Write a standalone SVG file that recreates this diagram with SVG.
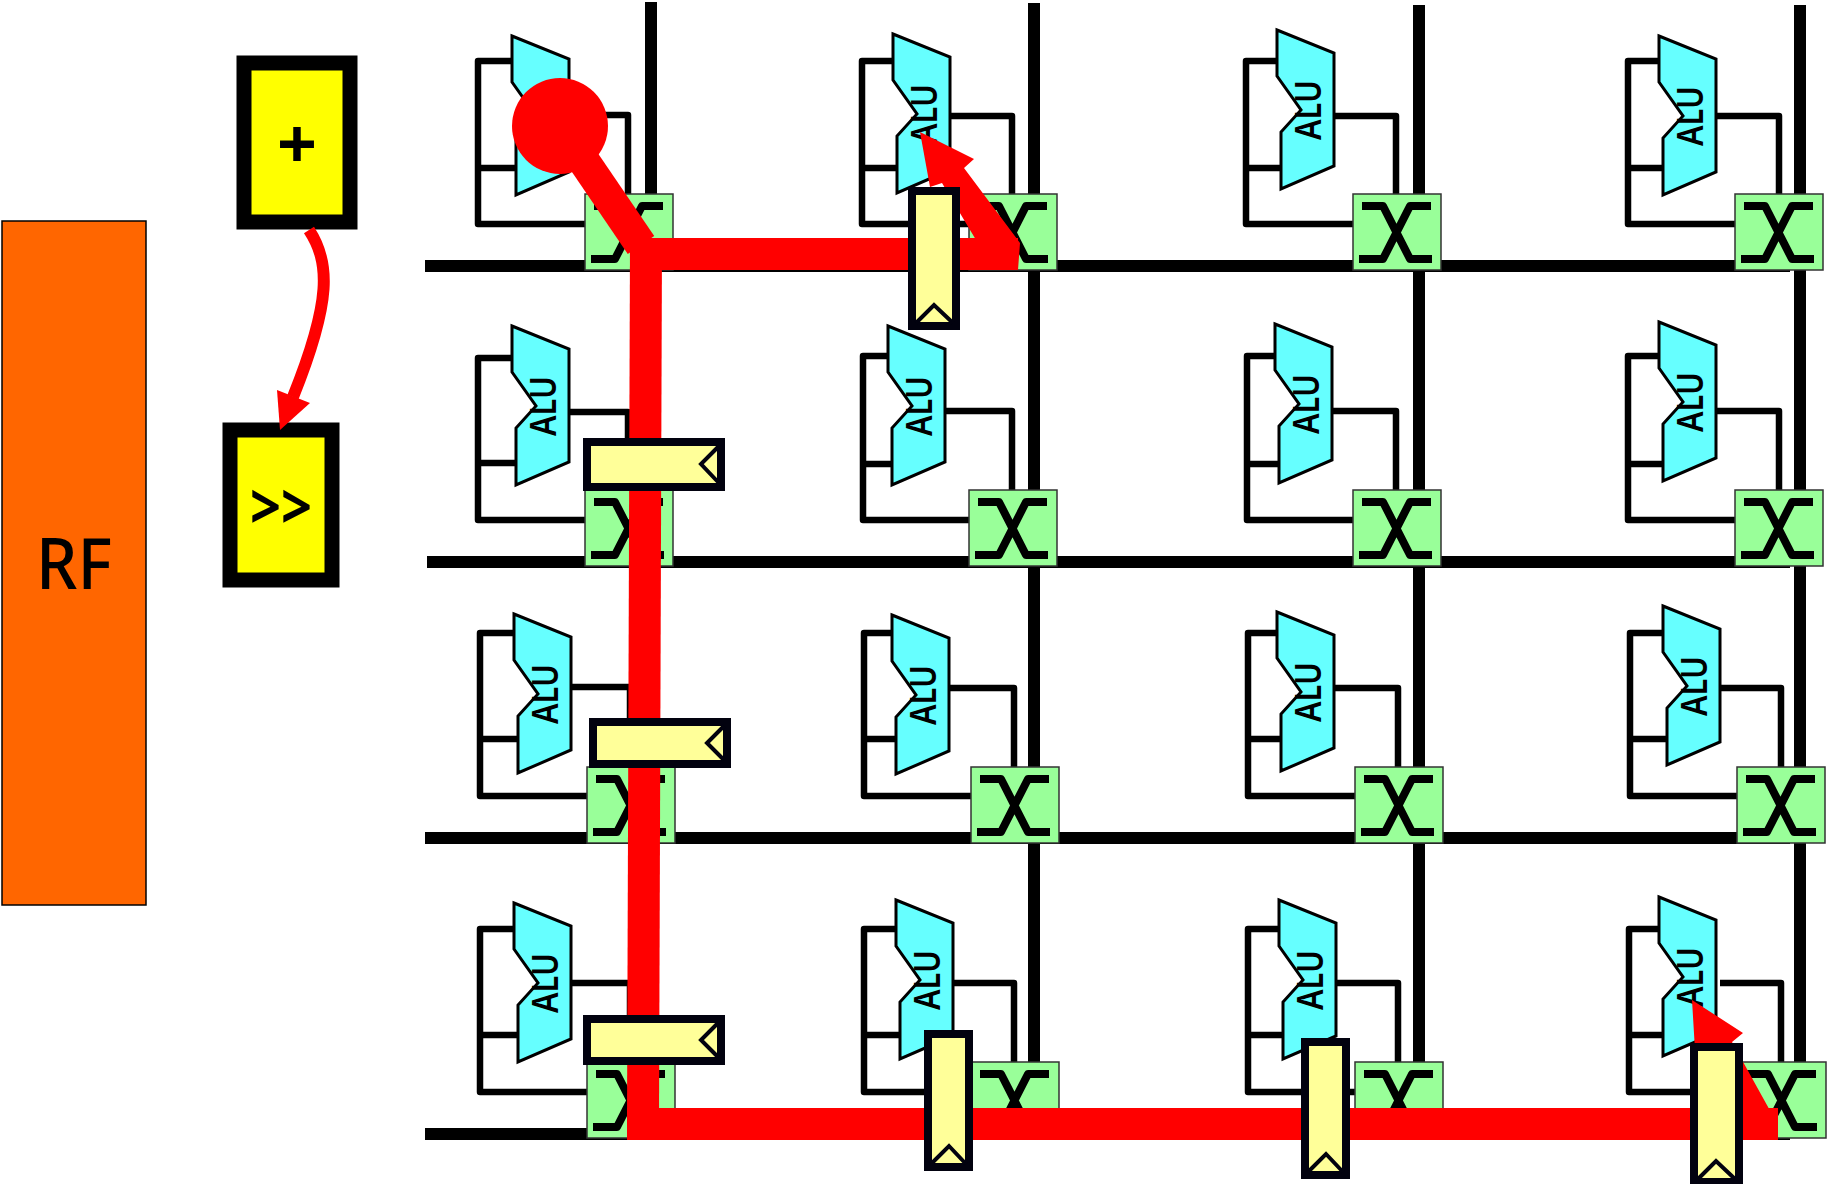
<svg xmlns="http://www.w3.org/2000/svg" xmlns:xlink="http://www.w3.org/1999/xlink" width="1827" height="1184" viewBox="0 0 1827 1184">
<style>
.bus{fill:none;stroke:#000;stroke-width:12}
.wire{fill:none;stroke:#000;stroke-width:6.5;stroke-linejoin:round}
.alu{fill:#66ffff;stroke:#000;stroke-width:3;stroke-linejoin:miter}
.sw{fill:#99ff99;stroke:#333;stroke-width:1.5}
.x{fill:none;stroke:#000;stroke-width:8;stroke-linejoin:round}
.t{font-family:"Noto Sans","DejaVu Sans",sans-serif;fill:#000;text-anchor:middle}
.alut{font-size:36px;font-weight:600}
.red{fill:none;stroke:#f00;stroke-width:32}
.redf{fill:#f00}
.reg{fill:#ffff99;stroke:#02020f;stroke-width:8}
.chev{fill:none;stroke:#02020f;stroke-width:4}
.op{fill:#ff0;stroke:#000;stroke-width:15}
</style>
<defs>
<polygon id="alu" class="alu" points="0,0 57,23 57,136 4,159 4,102 24,80 0,46"/>
<g id="sw"><rect class="sw" x="0" y="0" width="88" height="76"/><path class="x" d="M9 12H30L57 65H79M78 12H57L30 65H6"/></g>
</defs>
<rect width="1827" height="1184" fill="#fff"/>
<g id="rf"><rect x="2" y="221" width="144" height="684" fill="#ff6600" stroke="#000" stroke-width="1.5"/><text class="t" x="74" y="589" font-size="71" font-weight="500" textLength="76" lengthAdjust="spacingAndGlyphs">RF</text></g>
<g id="op-add"><rect class="op" x="244" y="63" width="106" height="159"/><text class="t" x="297" y="169" font-size="70" font-weight="700">+</text></g>
<g id="op-shift"><rect class="op" x="230" y="430" width="102" height="150"/><text class="t" x="281" y="529" font-size="62" font-weight="700" textLength="62" lengthAdjust="spacingAndGlyphs">&gt;&gt;</text></g>
<g id="buses">
<path class="bus" d="M425 266H1790M427 562H1790M425 838H1790M425 1134H1790"/>
<path class="bus" d="M651 2V200M1034 3V1070M1419 5V1070M1800 5V1070"/>
</g>
<g id="wires">
<path class="wire" d="M512 61H478V224H590M478 168H515M565 115H628V195"/>
<path class="wire" d="M893 61H862V224H975M862 168H897M950 116H1012V195"/>
<path class="wire" d="M1277 61H1246V224H1355M1246 168H1281M1334 116H1396V195"/>
<path class="wire" d="M1659 61H1628V224H1737M1628 168H1663M1716 116H1779V195"/>
<path class="wire" d="M512 358H478V520H590M478 463H516M569 412H628V495"/>
<path class="wire" d="M888 356H863V520H975M863 464H892M945 411H1012V491"/>
<path class="wire" d="M1275 356H1247V520H1355M1247 464H1279M1332 411H1396V491"/>
<path class="wire" d="M1659 356H1628V520H1737M1628 464H1663M1716 411H1779V491"/>
<path class="wire" d="M514 633H480V796H590M480 739H518M571 687H630V770"/>
<path class="wire" d="M892 633H864V796H975M864 739H896M949 688H1014V768"/>
<path class="wire" d="M1277 633H1248V796H1357M1248 739H1281M1334 688H1398V768"/>
<path class="wire" d="M1663 633H1630V796H1739M1630 739H1667M1720 688H1781V768"/>
<path class="wire" d="M514 929H480V1092H590M480 1035H518M571 983H630V1065"/>
<path class="wire" d="M896 929H864V1092H975M864 1035H900M953 983H1014V1065"/>
<path class="wire" d="M1279 929H1248V1092H1357M1248 1035H1283M1336 983H1398V1065"/>
<path class="wire" d="M1659 929H1629V1092H1739M1629 1035H1663M1720 983H1781V1065"/>
</g>
<g id="alu-1-1" transform="translate(512,36)"><use href="#alu"/></g>
<g id="alu-1-2" transform="translate(893,34)"><use href="#alu"/><text class="t alut" transform="translate(44,80) rotate(-90)" textLength="60" lengthAdjust="spacingAndGlyphs">ALU</text></g>
<g id="alu-1-3" transform="translate(1277,30)"><use href="#alu"/><text class="t alut" transform="translate(44,80) rotate(-90)" textLength="60" lengthAdjust="spacingAndGlyphs">ALU</text></g>
<g id="alu-1-4" transform="translate(1659,36)"><use href="#alu"/><text class="t alut" transform="translate(44,80) rotate(-90)" textLength="60" lengthAdjust="spacingAndGlyphs">ALU</text></g>
<g id="alu-2-1" transform="translate(512,326)"><use href="#alu"/><text class="t alut" transform="translate(44,80) rotate(-90)" textLength="60" lengthAdjust="spacingAndGlyphs">ALU</text></g>
<g id="alu-2-2" transform="translate(888,326)"><use href="#alu"/><text class="t alut" transform="translate(44,80) rotate(-90)" textLength="60" lengthAdjust="spacingAndGlyphs">ALU</text></g>
<g id="alu-2-3" transform="translate(1275,324)"><use href="#alu"/><text class="t alut" transform="translate(44,80) rotate(-90)" textLength="60" lengthAdjust="spacingAndGlyphs">ALU</text></g>
<g id="alu-2-4" transform="translate(1659,322)"><use href="#alu"/><text class="t alut" transform="translate(44,80) rotate(-90)" textLength="60" lengthAdjust="spacingAndGlyphs">ALU</text></g>
<g id="alu-3-1" transform="translate(514,614)"><use href="#alu"/><text class="t alut" transform="translate(44,80) rotate(-90)" textLength="60" lengthAdjust="spacingAndGlyphs">ALU</text></g>
<g id="alu-3-2" transform="translate(892,615)"><use href="#alu"/><text class="t alut" transform="translate(44,80) rotate(-90)" textLength="60" lengthAdjust="spacingAndGlyphs">ALU</text></g>
<g id="alu-3-3" transform="translate(1277,612)"><use href="#alu"/><text class="t alut" transform="translate(44,80) rotate(-90)" textLength="60" lengthAdjust="spacingAndGlyphs">ALU</text></g>
<g id="alu-3-4" transform="translate(1663,606)"><use href="#alu"/><text class="t alut" transform="translate(44,80) rotate(-90)" textLength="60" lengthAdjust="spacingAndGlyphs">ALU</text></g>
<g id="alu-4-1" transform="translate(514,903)"><use href="#alu"/><text class="t alut" transform="translate(44,80) rotate(-90)" textLength="60" lengthAdjust="spacingAndGlyphs">ALU</text></g>
<g id="alu-4-2" transform="translate(896,900)"><use href="#alu"/><text class="t alut" transform="translate(44,80) rotate(-90)" textLength="60" lengthAdjust="spacingAndGlyphs">ALU</text></g>
<g id="alu-4-3" transform="translate(1279,900)"><use href="#alu"/><text class="t alut" transform="translate(44,80) rotate(-90)" textLength="60" lengthAdjust="spacingAndGlyphs">ALU</text></g>
<g id="alu-4-4" transform="translate(1659,897)"><use href="#alu"/><text class="t alut" transform="translate(44,80) rotate(-90)" textLength="60" lengthAdjust="spacingAndGlyphs">ALU</text></g>
<g id="sw-1-1" transform="translate(585,194)"><use href="#sw"/></g>
<g id="sw-1-2" transform="translate(969,194)"><use href="#sw"/></g>
<g id="sw-1-3" transform="translate(1353,194)"><use href="#sw"/></g>
<g id="sw-1-4" transform="translate(1735,194)"><use href="#sw"/></g>
<g id="sw-2-1" transform="translate(585,490)"><use href="#sw"/></g>
<g id="sw-2-2" transform="translate(969,490)"><use href="#sw"/></g>
<g id="sw-2-3" transform="translate(1353,490)"><use href="#sw"/></g>
<g id="sw-2-4" transform="translate(1735,490)"><use href="#sw"/></g>
<g id="sw-3-1" transform="translate(587,767)"><use href="#sw"/></g>
<g id="sw-3-2" transform="translate(971,767)"><use href="#sw"/></g>
<g id="sw-3-3" transform="translate(1355,767)"><use href="#sw"/></g>
<g id="sw-3-4" transform="translate(1737,767)"><use href="#sw"/></g>
<g id="sw-4-1" transform="translate(587,1062)"><use href="#sw"/></g>
<g id="sw-4-2" transform="translate(971,1062)"><use href="#sw"/></g>
<g id="sw-4-3" transform="translate(1355,1062)"><use href="#sw"/></g>
<g id="sw-4-4" transform="translate(1738,1062)"><use href="#sw"/></g>
<g id="connectors">
<circle class="redf" cx="560" cy="126" r="48"/>
<path class="red" d="M560 126L641 245"/>
<path class="red" d="M630 254H1018"/>
<path class="red" d="M646 240L643 1124"/>
<path class="red" d="M627 1124H1778"/>
<polygon class="redf" points="920,132 974,159 964,168 1020,243 1018,270 990,270 982,250 942,183 930,187"/>
<polygon class="redf" points="1692,1000 1743,1033 1732,1042 1778,1125 1778,1140 1720,1140 1695,1050"/>
<path d="M309 230C330 262 332 300 293 397" fill="none" stroke="#f00" stroke-width="12"/>
<polygon class="redf" points="280,430 277,390 310,403"/>
</g>
<g id="reg-1" transform="translate(912,191)"><rect class="reg" width="44" height="135"/><path class="chev" d="M4 132L22 114L41 132"/></g>
<g id="reg-2" transform="translate(587,442)"><rect class="reg" width="134" height="45"/><path class="chev" d="M131 5L114 22L131 40"/></g>
<g id="reg-3" transform="translate(593,722)"><rect class="reg" width="134" height="42"/><path class="chev" d="M131 4L114 21L131 38"/></g>
<g id="reg-4" transform="translate(587,1019)"><rect class="reg" width="134" height="42"/><path class="chev" d="M131 4L114 21L131 38"/></g>
<g id="reg-5" transform="translate(928,1034)"><rect class="reg" width="41" height="133"/><path class="chev" d="M3 130L21 112L38 130"/></g>
<g id="reg-6" transform="translate(1305,1042)"><rect class="reg" width="41" height="133"/><path class="chev" d="M3 130L21 112L38 130"/></g>
<g id="reg-7" transform="translate(1694,1047)"><rect class="reg" width="45" height="135"/><path class="chev" d="M4 132L22 114L41 132"/></g>
</svg>
